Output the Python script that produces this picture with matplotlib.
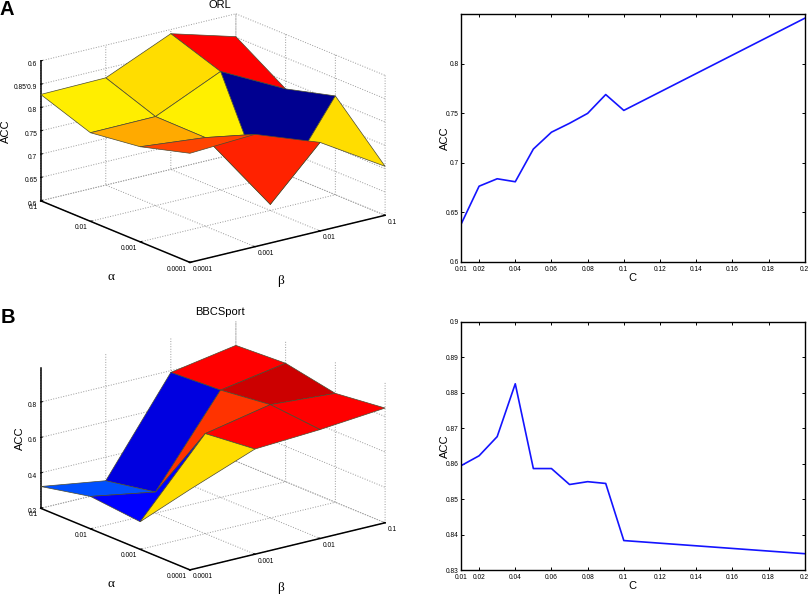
import numpy as np
import matplotlib
matplotlib.use('Agg')
import matplotlib.pyplot as plt

plt.rcParams['font.family'] = ['Liberation Sans', 'DejaVu Sans']

# ---- data ----
grid_labels = ['0.0001', '0.001', '0.01', '0.1']

# rows: alpha index (0.0001 -> 0.1), cols: beta index (0.0001 -> 0.1)
orl_acc = [[0.834, 0.841, 0.790, 0.705],
           [0.804, 0.790, 0.613, 0.812],
           [0.790, 0.791, 0.854, 0.783],
           [0.828, 0.830, 0.891, 0.851]]
orl_colors = [['#ff4400', '#ff2200', '#ffdd00'],
              ['#ffaa00', '#fff000', '#000090'],
              ['#ffee00', '#ffdd00', '#ff0000']]

bbc_acc = [[0.654, 0.794, 0.815, 0.848],
           [0.356, 0.765, 0.840, 0.815],
           [0.383, 0.319, 0.806, 0.869],
           [0.323, 0.267, 0.790, 0.854]]
bbc_colors = [['#ffdd00', '#ff0000', '#ff0000'],
              ['#0000ff', '#ff3300', '#cc0000'],
              ['#0050ff', '#0000e0', '#ff0000']]

c_values = [0.01, 0.02, 0.03, 0.04, 0.05, 0.06, 0.07, 0.08, 0.09, 0.1, 0.2]
orl_c_acc = [0.638, 0.6765, 0.684, 0.681, 0.714, 0.731, 0.740, 0.750, 0.769, 0.753, 0.846]
bbc_c_acc = [0.8594, 0.8622, 0.8676, 0.8825, 0.8586, 0.8586, 0.8541, 0.8549, 0.8544, 0.8383, 0.8346]
c_ticks = [0.01, 0.02, 0.04, 0.06, 0.08, 0.1, 0.12, 0.14, 0.16, 0.18, 0.2]
c_ticklabels = ['0.01', '0.02', '0.04', '0.06', '0.08', '0.1', '0.12', '0.14', '0.16', '0.18', '0.2']

# the reference really prints 0.6 at the top and 0.85 next to 0.9
orl_zticks = [0.6, 0.65, 0.7, 0.75, 0.8, 0.85, 0.9]
orl_zlabels = ['0.6', '0.65', '0.7', '0.75', '0.8', "0.85'0.9", '0.6']
bbc_zticks = [0.2, 0.4, 0.6, 0.8]
bbc_zlabels = ['0.2', '0.4', '0.6', '0.8']

W, H = 809, 594
fig = plt.figure(figsize=(W / 100, H / 100), dpi=100)


def px_axes(left, top, right, bottom, **kw):
    return fig.add_axes([left / W, 1 - bottom / H, (right - left) / W, (bottom - top) / H], **kw)


def px_text(x, y, s, **kw):
    fig.text(x / W, 1 - y / H, s, ha='center', va='center', **kw)


def surface_panel(rect, acc, colors, zlim, zticks, zlabels):
    # square axes, mplot3d clips to the square anyway
    ax = px_axes(*rect, projection='3d')
    ax.patch.set_visible(False)
    ax.set_proj_type('ortho')
    ax.view_init(elev=18.4, azim=-127.4)
    ax.set_box_aspect((1, 1, 0.6), zoom=0.916)
    idx = np.arange(4)
    xx, yy = np.meshgrid(idx, idx)  # x: beta, y: alpha
    face = np.array([[matplotlib.colors.to_rgba(c) for c in r] for r in colors])
    ax.plot_surface(xx, yy, np.array(acc), facecolors=face, shade=False,
                    edgecolor='#4a4a30', linewidth=0.5, rstride=1, cstride=1)
    ax.set_xlim(0, 3)
    ax.set_ylim(0, 3)
    ax.set_zlim(*zlim)
    ax.set_xticks(idx)
    ax.set_yticks(idx)
    ax.set_zticks(zticks)
    ax.set_xticklabels(grid_labels, fontsize=4.8, ha='left')
    ax.set_yticklabels(grid_labels, fontsize=4.8, ha='right')
    ax.set_zticklabels(zlabels, fontsize=4.8, ha='right')
    ax.tick_params(axis='x', pad=-5.5)
    ax.tick_params(axis='y', pad=-5.5)
    ax.tick_params(axis='z', pad=-6.5)
    for axis in (ax.xaxis, ax.yaxis, ax.zaxis):
        axis.set_pane_color((1, 1, 1, 0))
        axis.pane.set_edgecolor((1, 1, 1, 0))
        axis.line.set_color('black')
        axis.line.set_linewidth(1.1)
        axis._axinfo['grid'].update(color='#999999', linestyle=':', linewidth=0.7)
        axis._axinfo['tick'].update(inward_factor=0.0, outward_factor=0.1)
    ax.grid(True)
    return ax


def line_panel(rect, acc, ylim, yticks, ylabels):
    ax = px_axes(*rect)
    ax.plot(c_values, acc, color='#1414ff', linewidth=1.2)
    ax.set_xlim(0.01, 0.2)
    ax.set_ylim(*ylim)
    ax.set_xticks(c_ticks)
    ax.set_xticklabels(c_ticklabels)
    ax.set_yticks(yticks)
    ax.set_yticklabels(ylabels)
    ax.tick_params(direction='in', top=True, right=True, labelsize=4.8, length=2.5, width=0.7, pad=1.5)
    ax.tick_params(axis='x', pad=3)
    for s in ax.spines.values():
        s.set_linewidth(1.0)
    ax.set_xlabel('C', fontsize=8, labelpad=0)
    ax.set_ylabel('ACC', fontsize=8, labelpad=-3)
    return ax


surface_panel((7.5, -56.5, 407.5, 343.5), orl_acc, orl_colors, (0.6, 0.9), orl_zticks, orl_zlabels)
surface_panel((7.5, 251, 407.5, 651), bbc_acc, bbc_colors, (0.2, 0.99), bbc_zticks, bbc_zlabels)

px_text(220, 4.5, 'ORL', fontsize=8)
px_text(220, 312, 'BBCSport', fontsize=8)
px_text(6, 131, 'ACC', fontsize=8, rotation=90)
px_text(20, 438, 'ACC', fontsize=8, rotation=90)
for dy in (0, 307):
    px_text(111, 277 + dy, 'α', family='Liberation Serif', fontsize=9.5)
    px_text(281, 281 + dy, 'β', family='Liberation Serif', fontsize=9.5)

line_panel((461, 14.3, 804.7, 262), orl_c_acc, (0.6, 0.85), [0.6, 0.65, 0.7, 0.75, 0.8],
           ['0.6', '0.65', '0.7', '0.75', '0.8'])
line_panel((461, 321.7, 804.7, 570), bbc_c_acc, (0.83, 0.9), [0.83, 0.84, 0.85, 0.86, 0.87, 0.88, 0.89, 0.9],
           ['0.83', '0.84', '0.85', '0.86', '0.87', '0.88', '0.89', '0.9'])

fig.text(0 / W, 1 - 15 / H, 'A', fontsize=14.5, fontweight='bold')
fig.text(1 / W, 1 - 323 / H, 'B', fontsize=14.5, fontweight='bold')

plt.savefig('out.png', dpi=100)
